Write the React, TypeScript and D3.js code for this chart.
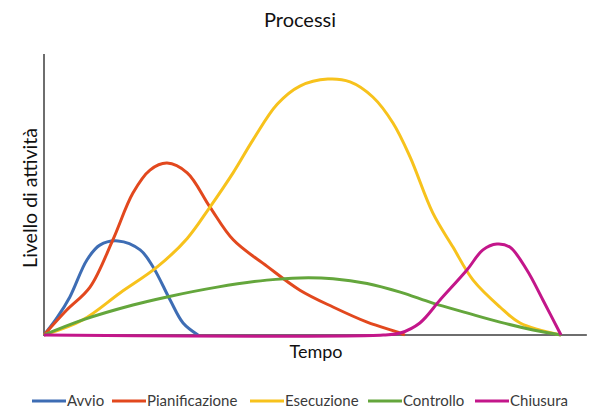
import React from "react";
import * as d3 from "d3";

// time (0-100) and activity level (0-100)
const avvioT = [0, 2.5, 5.0, 8.3, 10.8, 14.3, 18.6, 21.1, 24.4, 26.9, 29.8];
const avvioV = [0, 6.1, 13.6, 26.8, 32.1, 33.6, 30.4, 24.3, 12.5, 4.3, 0];

const pianT = [0, 4.4, 8.9, 13.3, 17.2, 20.5, 23.8, 27.7, 32.1, 36.6, 43.1, 49.5, 55.9, 62.5, 68.9, 69.8];
const pianV = [0, 8.9, 17.1, 33.9, 50.7, 58.9, 61.4, 57.9, 45.7, 34.0, 24.6, 16.0, 10.0, 4.6, 0.7, 0];

const esecT = [0, 7.5, 14.7, 21.9, 27.7, 32.1, 36.6, 40.4, 45.1, 49.5, 54.9, 59.2, 63.6, 67.5, 70.8, 75.2, 79.1, 83.0, 88.2, 92.1, 100];
const esecV = [0, 5.4, 15.0, 24.3, 34.5, 45.7, 58.0, 69.6, 82.4, 88.9, 91.4, 90.4, 85.0, 75.7, 63.6, 43.6, 31.4, 19.6, 10.0, 4.3, 0];

const contT = [0, 7.5, 17.2, 23.8, 33.5, 43.1, 49.5, 55.9, 62.5, 68.9, 75.2, 81.8, 88.2, 94.6, 100];
const contV = [0, 5.4, 10.7, 13.6, 17.1, 19.6, 20.4, 20.1, 18.4, 15.3, 11.4, 7.9, 4.6, 1.8, 0];

const chiuT = [0, 65.6, 68.9, 72.7, 76.6, 81.8, 84.9, 87.6, 90.1, 93.4, 96.5, 100];
const chiuV = [0, 0, 0.7, 4.3, 12.5, 23.2, 30.4, 32.5, 31.4, 23.2, 12.5, 0];

const seriesNames = ["Avvio", "Pianificazione", "Esecuzione", "Controllo", "Chiusura"];
const seriesColors = ["#3e6db4", "#e2481e", "#f7c21c", "#64a63c", "#c3168a"];
const seriesT = [avvioT, pianT, esecT, contT, chiuT];
const seriesV = [avvioV, pianV, esecV, contV, chiuV];

const FONT = "Lato, 'Open Sans', sans-serif";

export default function App() {
  const width = 600;
  const height = 420;

  const x = d3.scaleLinear().domain([0, 100]).range([44, 561]);
  const y = d3.scaleLinear().domain([0, 100]).range([335, 55]);

  const line = d3
    .line<[number, number]>()
    .x((d) => x(d[0]))
    .y((d) => y(d[1]))
    .curve(d3.curveCatmullRom.alpha(0.5));

  // legend layout: line swatch then label
  const legendX = [32, 112, 250, 368, 475];
  const legendY = 401;

  return (
    <svg
      width={width}
      height={height}
      style={{ position: "absolute", left: 0, top: 0, background: "#fff" }}
      fontFamily={FONT}
    >
      <text x={300} y={27} textAnchor="middle" fontSize={20} fill="#111">
        Processi
      </text>

      {/* axes */}
      <line x1={x(0)} x2={x(0)} y1={y(0) + 1} y2={y(100) - 1} stroke="#6e6e6e" strokeWidth={2} />
      <line x1={x(0) - 1} x2={x(105)} y1={y(0)} y2={y(0)} stroke="#6e6e6e" strokeWidth={2} />

      <text
        transform={`translate(37,198) rotate(-90)`}
        textAnchor="middle"
        fontSize={19.5}
        fill="#111"
      >
        Livello di attività
      </text>
      <text x={316} y={358} textAnchor="middle" fontSize={18} fill="#111">
        Tempo
      </text>

      {seriesNames.map((name, i) => {
        const pts = seriesT[i].map((t, j) => [t, seriesV[i][j]] as [number, number]);
        return (
          <path
            key={name}
            d={line(pts) || ""}
            fill="none"
            stroke={seriesColors[i]}
            strokeWidth={3}
            strokeLinejoin="round"
          />
        );
      })}

      {seriesNames.map((name, i) => (
        <g key={name} transform={`translate(${legendX[i]},${legendY})`}>
          <line x1={0} x2={34} y1={0} y2={0} stroke={seriesColors[i]} strokeWidth={3} />
          <text x={35} y={5} fontSize={15} fill="#3a3a3a">
            {name}
          </text>
        </g>
      ))}
    </svg>
  );
}
